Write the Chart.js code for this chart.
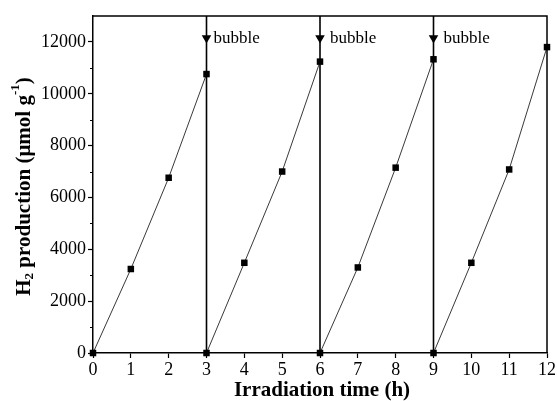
<!DOCTYPE html>
<html>
<head>
<meta charset="utf-8">
<script src="https://cdn.jsdelivr.net/npm/chart.js@4"></script>
<style>
  html, body { margin: 0; padding: 0; background: #fff; }
  #wrap { width: 557px; height: 401px; position: relative; }
</style>
</head>
<body>
<div id="wrap"><canvas id="c"></canvas></div>
<script>
const SERIF = "'Liberation Serif', 'Times New Roman', serif";

// H2 evolution over four 3 h cycles (gas removed at the end of each cycle)
const cycleTimes = [[0, 1, 2, 3], [3, 4, 5, 6], [6, 7, 8, 9], [9, 10, 11, 12]];
const cycleH2 = [
  [0, 3240, 6760, 10760],
  [0, 3480, 7000, 11240],
  [0, 3300, 7150, 11330],
  [0, 3480, 7080, 11800],
];
const bubbleTimes = [3, 6, 9];
const bubbleText = 'bubble';
const arrowLevel = 12150;

const xTicks = [0, 1, 2, 3, 4, 5, 6, 7, 8, 9, 10, 11, 12];
const yTicks = [0, 2000, 4000, 6000, 8000, 10000, 12000];
const yMinorTicks = [1000, 3000, 5000, 7000, 9000, 11000];
const xMax = 12, yMax = 13000;

const cycleSets = cycleTimes.map((ts, i) => ({
  data: ts.map((t, j) => ({ x: t, y: cycleH2[i][j] })),
  borderColor: '#222', borderWidth: 0.9,
  pointStyle: 'rect', pointRadius: 4.6, pointBackgroundColor: '#000', pointBorderWidth: 0,
  tension: 0, order: 0, clip: false,
}));

const bubbleLines = bubbleTimes.map((t) => ({
  data: [{ x: t, y: 0 }, { x: t, y: yMax }],
  borderColor: '#000', borderWidth: 1.6, pointRadius: 0, order: 2,
}));

const arrows = {
  data: bubbleTimes.map((t) => ({ x: t, y: arrowLevel })),
  showLine: false, pointStyle: 'triangle', rotation: 180, pointRadius: 5.5,
  pointBackgroundColor: '#000', pointBorderWidth: 0, order: 1,
};

// frame, minor ticks, bubble notes and axis titles
const decor = {
  id: 'decor',
  afterDraw(chart) {
    const { ctx, chartArea: a, scales: { x, y } } = chart;
    ctx.save();
    ctx.strokeStyle = '#000'; ctx.lineWidth = 1.5;
    ctx.beginPath();
    ctx.moveTo(a.left, a.top); ctx.lineTo(a.right, a.top); ctx.lineTo(a.right, a.bottom);
    ctx.stroke();

    ctx.lineWidth = 1;
    for (const v of yMinorTicks) {
      const py = Math.round(y.getPixelForValue(v)) + 0.5;
      ctx.beginPath(); ctx.moveTo(a.left - 3, py); ctx.lineTo(a.left, py); ctx.stroke();
    }

    ctx.fillStyle = '#000';
    ctx.font = `17px ${SERIF}`;
    ctx.textBaseline = 'middle';
    bubbleTimes.forEach((t, i) => {
      ctx.fillText(bubbleText, x.getPixelForValue(t) + (i === 0 ? 7 : 10), y.getPixelForValue(arrowLevel));
    });

    ctx.font = `bold 21px ${SERIF}`;
    ctx.textAlign = 'center'; ctx.textBaseline = 'alphabetic';
    ctx.fillText('Irradiation time (h)', (a.left + a.right) / 2 + 2, 396);

    // rotated y title with sub/superscripts
    const parts = [
      { t: 'H', f: `bold 21px ${SERIF}`, dy: 0 },
      { t: '2', f: `bold 13px ${SERIF}`, dy: 5 },
      { t: ' production (\u03bcmol g', f: `bold 21px ${SERIF}`, dy: 0 },
      { t: '-1', f: `bold 13px ${SERIF}`, dy: -9 },
      { t: ')', f: `bold 21px ${SERIF}`, dy: 0 },
    ];
    let w = 0;
    for (const p of parts) { ctx.font = p.f; p.w = ctx.measureText(p.t).width; w += p.w; }
    ctx.translate(25, (a.top + a.bottom) / 2 + 2);
    ctx.rotate(-Math.PI / 2);
    ctx.textAlign = 'left'; ctx.textBaseline = 'middle';
    let cx = -w / 2;
    for (const p of parts) { ctx.font = p.f; ctx.fillText(p.t, cx, p.dy); cx += p.w; }
    ctx.restore();
  },
};

new Chart(document.getElementById('c'), {
  type: 'line',
  data: { datasets: [...cycleSets, arrows, ...bubbleLines] },
  options: {
    responsive: true, maintainAspectRatio: false, animation: false,
    layout: { padding: { top: 16, right: 9, left: 0, bottom: 0 } },
    plugins: { legend: { display: false }, tooltip: { enabled: false } },
    scales: {
      x: {
        type: 'linear', min: 0, max: xMax,
        afterBuildTicks: (s) => { s.ticks = xTicks.map((v) => ({ value: v })); },
        afterFit: (s) => { s.height = 48; },
        ticks: { font: { family: SERIF, size: 18 }, color: '#000', padding: 1, maxRotation: 0, callback: (v) => String(v) },
        grid: { drawOnChartArea: false, tickLength: 5, tickColor: '#000', tickWidth: 1.2 },
        border: { color: '#000', width: 1.5 },
      },
      y: {
        type: 'linear', min: 0, max: yMax,
        afterBuildTicks: (s) => { s.ticks = yTicks.map((v) => ({ value: v })); },
        afterFit: (s) => { s.width = 93; },
        ticks: { font: { family: SERIF, size: 18 }, color: '#000', padding: 2, callback: (v) => String(v) },
        grid: { drawOnChartArea: false, tickLength: 5, tickColor: '#000', tickWidth: 1.2 },
        border: { color: '#000', width: 1.5 },
      },
    },
  },
  plugins: [decor],
});
</script>
</body>
</html>
